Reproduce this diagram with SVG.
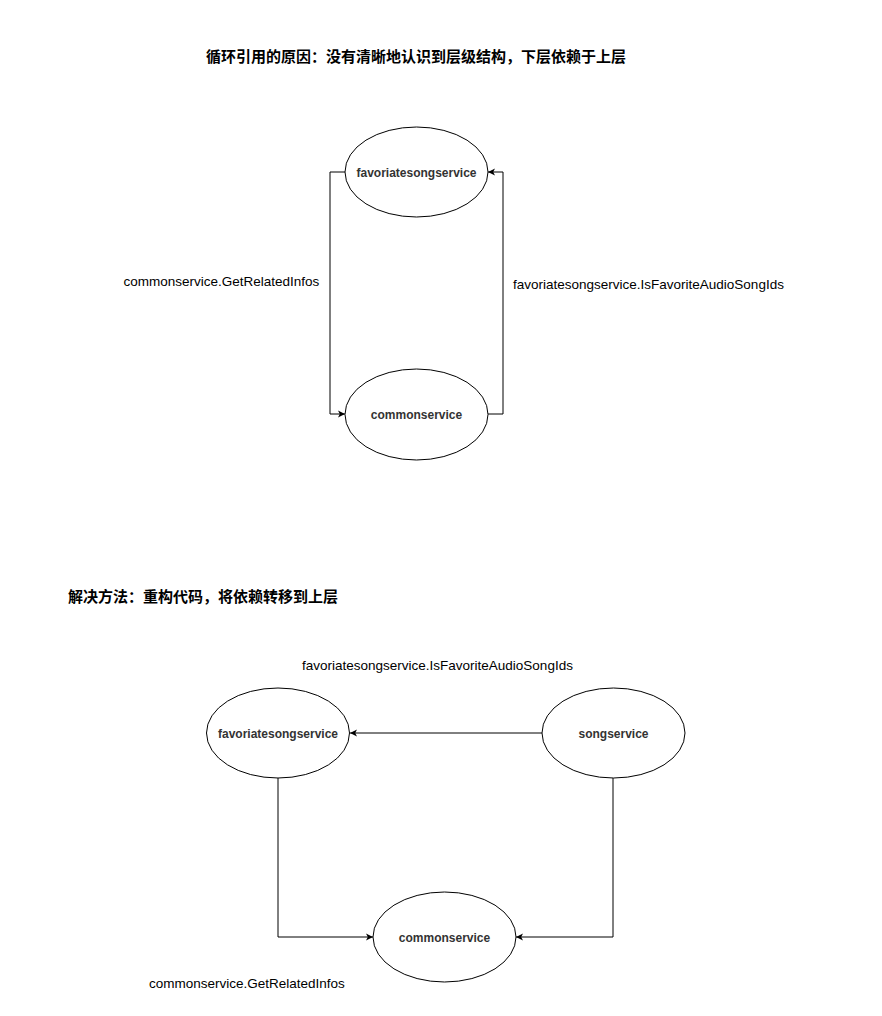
<svg xmlns="http://www.w3.org/2000/svg" width="882" height="1016" viewBox="0 0 882 1016">
<defs>
<marker id="arr" markerWidth="8" markerHeight="8" refX="7" refY="4" orient="auto" markerUnits="userSpaceOnUse">
<path d="M0,0.5 L7,4 L0,7.5 L1.8,4 z" fill="#000"/>
</marker>
</defs>
<style>
.title{font-family:"Liberation Sans","Noto Sans CJK SC",sans-serif;font-size:15px;font-weight:bold;fill:#000}
.node ellipse{fill:#fff;stroke:#000;stroke-width:1}
.node text{font-family:"Liberation Sans",Arial,sans-serif;font-size:12px;font-weight:bold;fill:#333;text-anchor:middle}
.lbl{font-family:"Liberation Sans",Arial,sans-serif;font-size:13.5px;fill:#000}
.edge{fill:none;stroke:#000;stroke-width:1;marker-end:url(#arr)}
</style>
<rect width="882" height="1016" fill="#fff"/>
<text class="title" x="206" y="62">循环引用的原因：没有清晰地认识到层级结构，下层依赖于上层</text>
<text class="title" x="68" y="602">解决方法：重构代码，将依赖转移到上层</text>
<g id="connectors">
<path class="edge" d="M345,172 H330 V414 H345"/>
<path class="edge" d="M488,414 H503 V172 H488"/>
<path class="edge" d="M542,733 H350"/>
<path class="edge" d="M278,777 V937 H373"/>
<path class="edge" d="M613,777 V937 H516"/>
</g>
<text class="lbl" x="123.5" y="286">commonservice.GetRelatedInfos</text>
<text class="lbl" x="513" y="289">favoriatesongservice.IsFavoriteAudioSongIds</text>
<text class="lbl" x="302" y="670">favoriatesongservice.IsFavoriteAudioSongIds</text>
<text class="lbl" x="149" y="988">commonservice.GetRelatedInfos</text>
<g id="node-fav-top" class="node">
<ellipse cx="416.5" cy="172" rx="71.5" ry="45"/>
<text x="416.5" y="176.5">favoriatesongservice</text>
</g>
<g id="node-common-top" class="node">
<ellipse cx="416.5" cy="414.5" rx="71.5" ry="45.5"/>
<text x="416.5" y="419">commonservice</text>
</g>
<g id="node-fav-bottom" class="node">
<ellipse cx="278" cy="733" rx="71.5" ry="45"/>
<text x="278" y="737.5">favoriatesongservice</text>
</g>
<g id="node-song" class="node">
<ellipse cx="613.5" cy="733" rx="71.5" ry="45"/>
<text x="613.5" y="737.5">songservice</text>
</g>
<g id="node-common-bottom" class="node">
<ellipse cx="444.5" cy="937" rx="71.5" ry="45"/>
<text x="444.5" y="941.5">commonservice</text>
</g>
</svg>
